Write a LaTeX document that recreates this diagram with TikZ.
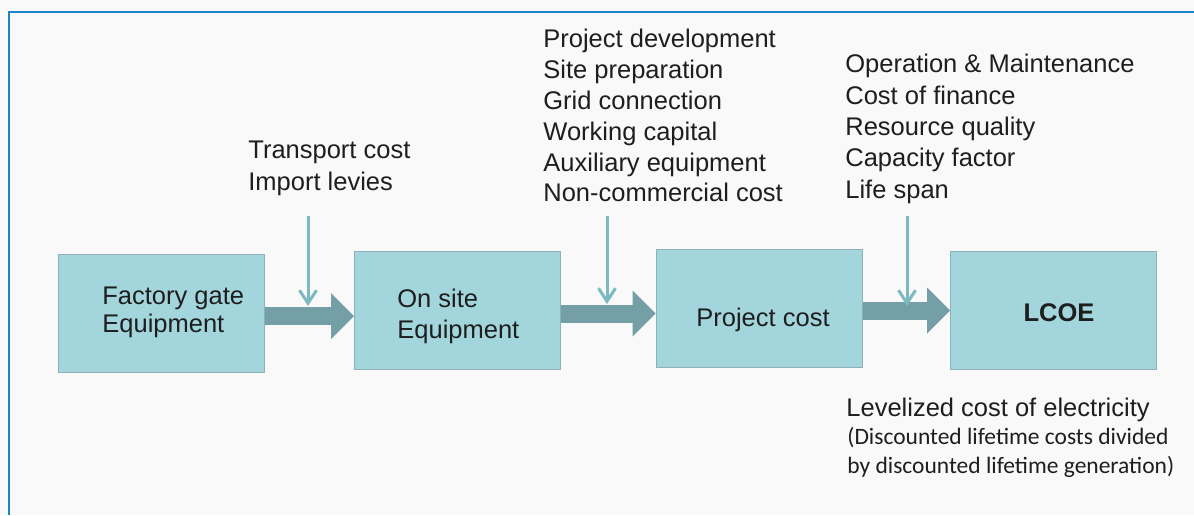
\documentclass[tikz,border=0pt]{standalone}
\usepackage{fontspec}
\setmainfont{Liberation Sans}
\newfontfamily\calibrifont{Carlito}
\usetikzlibrary{arrows.meta}

\definecolor{paper}{HTML}{F9F9F9}
\definecolor{frameblue}{HTML}{1B86C3}
\definecolor{boxteal}{HTML}{A3D6DC}
\definecolor{boxedge}{HTML}{8CB2B8}
\definecolor{flowgrey}{HTML}{749FA7}
\definecolor{feedteal}{HTML}{7CB9C1}
\definecolor{inktext}{HTML}{1E1E1E}

\tikzset{
	costbox/.style={draw=boxedge, line width=0.5pt, fill=boxteal, minimum width=103pt, minimum height=59pt, inner sep=0pt},
	boxtext/.style={align=left, inner sep=0pt, anchor=west, text=inktext, font=\fontsize{12.75}{14}\selectfont},
	costlist/.style={align=left, inner sep=0pt, anchor=north west, text=inktext, font=\fontsize{12.75}{15.5}\selectfont},
	flowarrow/.style={draw=flowgrey, line width=9pt, -{Triangle[length=11.5pt, width=23pt, line width=0pt]}},
	feedarrow/.style={draw=feedteal, line width=1.5pt, -{Straight Barb[length=6.5pt, width=8.5pt]}}
}

\begin{document}
\begin{tikzpicture}[x=0.5pt, y=-0.5pt]
			%%%%% START %%%%%
			\fill[paper] (0,0) rectangle (1194,515);
			\useasboundingbox (0,0) rectangle (1194,515);
			\draw[frameblue, line width=1pt] (9,515) -- (9,12) -- (1194,12);
			
			% the four stages
			\node[costbox] (factory) at (161.5,313.5) {};
			\node[costbox] (onsite) at (457.5,310) {};
			\node[costbox] (project) at (759,308) {};
			\node[costbox] (lcoe) at (1053.5,310.5) {};
			
			\node[boxtext] (factorytext) at (102,312.5) {Factory gate\\Equipment};
			\node[boxtext, font=\fontsize{12.75}{15.5}\selectfont] (onsitetext) at (397,316.5) {On site\\Equipment};
			\node[boxtext] (projecttext) at (696,320) {Project cost};
			\node[boxtext, anchor=center, font=\fontsize{12.75}{14}\bfseries] (lcoetext) at (1059,312.5) {LCOE};
			
			% big arrows
			\draw[flowarrow] (factory.east |- 0,316) -- (onsite.west |- 0,316);
			\draw[flowarrow] (onsite.east |- 0,313.5) -- (project.west |- 0,313.5);
			\draw[flowarrow] (project.east |- 0,310.5) -- (lcoe.west |- 0,310.5);
			
			% cost items added on the way
			\node[costlist, font=\fontsize{12.75}{16}\selectfont] (transport) at (248,141) {Transport cost\\Import levies};
			\node[costlist, font=\fontsize{12.75}{15.4}\selectfont] (development) at (543,29) {Project development\\Site preparation\\Grid connection\\Working capital\\Auxiliary equipment\\Non-commercial cost};
			\node[costlist, font=\fontsize{12.75}{15.65}\selectfont] (operation) at (845,54) {Operation \& Maintenance\\Cost of finance\\Resource quality\\Capacity factor\\Life span};
			
			\coordinate (in1) at (308,216);
			\coordinate (in2) at (607,216);
			\coordinate (in3) at (907,216);
			\draw[feedarrow] (in1) -- (in1 |- 0,306);
			\draw[feedarrow] (in2) -- (in2 |- 0,304);
			\draw[feedarrow] (in3) -- (in3 |- 0,306);
			
			% definition under LCOE
			\node[costlist] (lcoename) at (846,398) {Levelized cost of electricity};
			\node[costlist, font=\calibrifont\fontsize{11.75}{14.25}\selectfont] (lcoedef) at (847,427) {(Discounted lifetime costs divided\\by discounted lifetime generation)};
			%%%%% END %%%%%
\end{tikzpicture}
\end{document}
